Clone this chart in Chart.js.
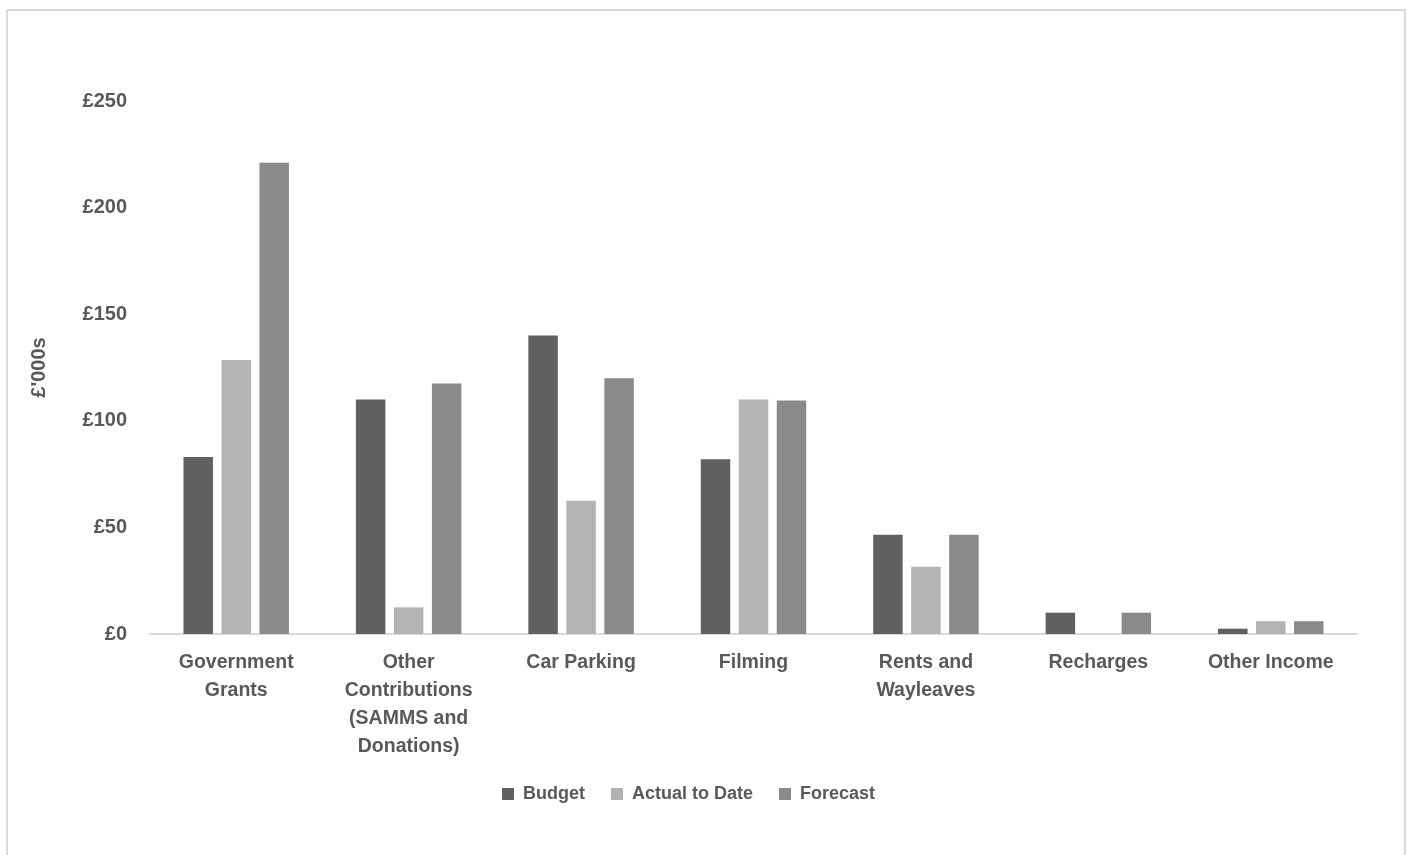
<!DOCTYPE html>
<html>
<head>
<meta charset="utf-8">
<script src="https://cdn.jsdelivr.net/npm/chart.js@4"></script>
<style>
  html, body { margin: 0; padding: 0; background: #fff; }
  .frame {
    position: absolute; left: 6px; top: 9px; width: 1400px; height: 870px;
    border: 2px solid #d9d9d9; box-sizing: border-box;
  }
  .wrap { position: absolute; left: 0; top: 0; width: 1413px; height: 855px; }
</style>
</head>
<body>
<div class="frame"></div>
<div class="wrap"><canvas id="myChart"></canvas></div>
<script>
const categories = [
    ['Government', 'Grants'],
    ['Other', 'Contributions', '(SAMMS and', 'Donations)'],
    'Car Parking',
    'Filming',
    ['Rents and', 'Wayleaves'],
    'Recharges',
    'Other Income'
];

// £'000s
const budget = [83, 110, 140, 82, 46.5, 10, 2.5];
const actualToDate = [128.5, 12.5, 62.5, 110, 31.5, 0, 6];
const forecast = [221, 117.5, 120, 109.5, 46.5, 10, 6];

const yTicks = [0, 50, 100, 150, 200, 250];

const textColor = '#595959';
const family = "'Liberation Sans', Arial, sans-serif";

const ctx = document.getElementById('myChart');

new Chart(ctx, {
    type: 'bar',
    data: {
        labels: categories,
        datasets: [
            { label: 'Budget', data: budget, backgroundColor: '#606060' },
            { label: 'Actual to Date', data: actualToDate, backgroundColor: '#b3b3b3' },
            { label: 'Forecast', data: forecast, backgroundColor: '#8a8a8a' }
        ]
    },
    options: {
        responsive: true,
        maintainAspectRatio: false,
        animation: false,
        categoryPercentage: 0.661,
        barPercentage: 0.776,
        layout: {
            padding: { top: 101, left: 20, right: 56, bottom: 42 }
        },
        plugins: {
            tooltip: { enabled: false },
            legend: {
                position: 'bottom',
                labels: {
                    color: textColor,
                    font: { family, size: 18, weight: 'bold' },
                    boxWidth: 12,
                    boxHeight: 12,
                    padding: 26
                }
            }
        },
        scales: {
            x: {
                grid: { display: false },
                border: { color: '#d9d9d9', width: 2 },
                ticks: {
                    color: textColor,
                    font: { family, size: 19.5, weight: 'bold', lineHeight: '28px' },
                    padding: 7,
                    autoSkip: false,
                    maxRotation: 0
                },
                afterFit: (scale) => { scale.height = 125; }
            },
            y: {
                min: 0,
                max: 250,
                grid: { display: false },
                border: { display: false },
                afterBuildTicks: (scale) => {
                    scale.ticks = yTicks.map(v => ({ value: v }));
                },
                ticks: {
                    color: textColor,
                    font: { family, size: 20, weight: 'bold' },
                    padding: 15,
                    callback: (v) => '£' + v
                },
                title: {
                    display: true,
                    text: "£'000s",
                    color: textColor,
                    font: { family, size: 20, weight: 'bold' },
                    padding: { top: 7, bottom: 4 }
                },
                afterFit: (scale) => { scale.width = 130; }
            }
        }
    }
});
</script>
</body>
</html>
